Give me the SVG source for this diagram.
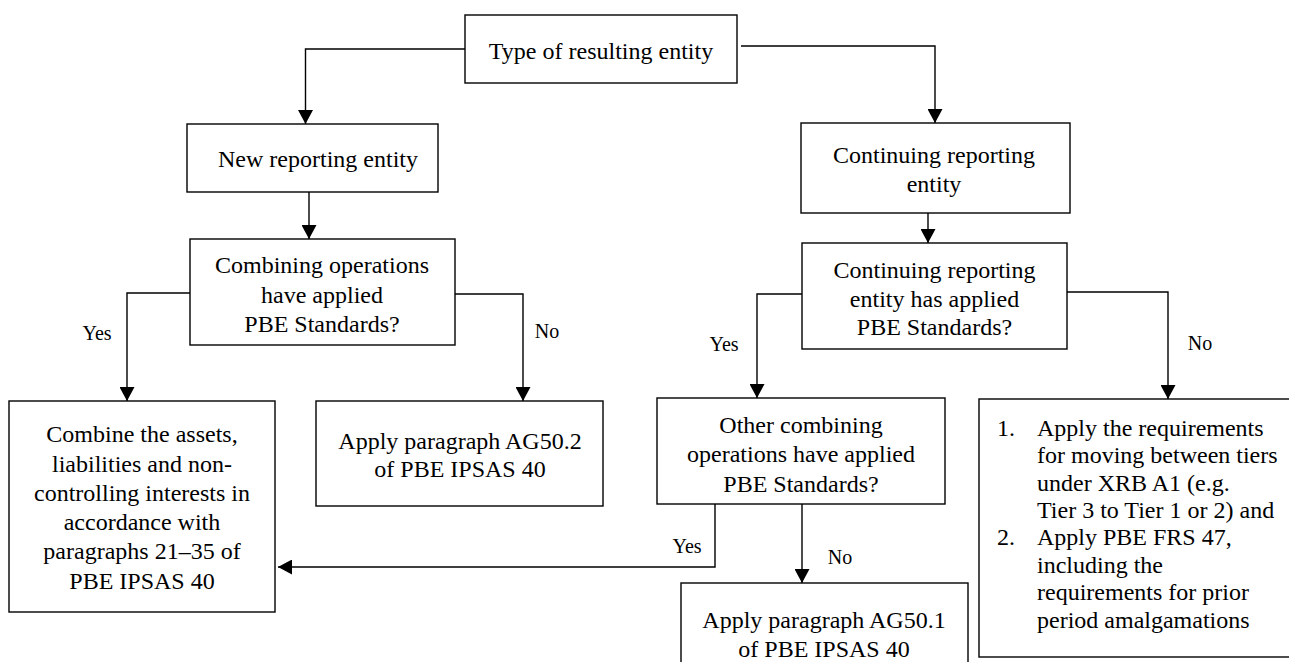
<svg xmlns="http://www.w3.org/2000/svg" width="1289" height="662" viewBox="0 0 1289 662">
<style>
.box{fill:#fff;stroke:#000;stroke-width:1.4}
.t{font-family:'Liberation Serif', 'Times New Roman', serif;font-size:24px;fill:#000;text-anchor:middle}
.tl{font-family:'Liberation Serif', 'Times New Roman', serif;font-size:24px;fill:#000}
.lbl{font-family:'Liberation Serif', 'Times New Roman', serif;font-size:20px;fill:#000;text-anchor:middle}
.c{fill:none;stroke:#000;stroke-width:1.4;marker-end:url(#ah)}
</style>
<defs>
<marker id="ah" viewBox="0 0 14 15" refX="14" refY="7.5" markerWidth="14" markerHeight="15" orient="auto" markerUnits="userSpaceOnUse">
<path d="M0,0 L14,7.5 L0,15 z" fill="#000"/>
</marker>
</defs>
<rect width="1289" height="662" fill="#fff"/>
<g id="connectors">
<path class="c" d="M465,49 H305.5 V124"/>
<path class="c" d="M741,46 H935 V123"/>
<path class="c" d="M309,192 V239"/>
<path class="c" d="M190,293 H127 V401"/>
<path class="c" d="M455,294 H523 V401"/>
<path class="c" d="M928,213 V243"/>
<path class="c" d="M802,294 H757 V398"/>
<path class="c" d="M1067,292 H1168 V399"/>
<path class="c" d="M715,504 V567 H278"/>
<path class="c" d="M802,504 V583"/>
<text class="lbl" x="97" y="340">Yes</text>
<text class="lbl" x="547" y="338">No</text>
<text class="lbl" x="724" y="351">Yes</text>
<text class="lbl" x="1200" y="350">No</text>
<text class="lbl" x="687" y="553">Yes</text>
<text class="lbl" x="840" y="564">No</text>
</g>
<g id="n-top">
<rect class="box" x="465" y="15" width="272" height="68"/>
<text class="t" x="601" y="59">Type of resulting entity</text>
</g>
<g id="n-new">
<rect class="box" x="187" y="124" width="251" height="68"/>
<text class="t" x="318" y="167">New reporting entity</text>
</g>
<g id="n-cont">
<rect class="box" x="801" y="123" width="269" height="90"/>
<text class="t" x="934" y="163">Continuing reporting</text>
<text class="t" x="934" y="192">entity</text>
</g>
<g id="n-comb-q">
<rect class="box" x="190" y="239" width="265" height="106"/>
<text class="t" x="322" y="272.5">Combining operations</text>
<text class="t" x="322" y="302.5">have applied</text>
<text class="t" x="322" y="332.3">PBE Standards?</text>
</g>
<g id="n-cont-q">
<rect class="box" x="802" y="243" width="265" height="106"/>
<text class="t" x="934.5" y="278">Continuing reporting</text>
<text class="t" x="934.5" y="306.7">entity has applied</text>
<text class="t" x="934.5" y="335">PBE Standards?</text>
</g>
<g id="n-combine">
<rect class="box" x="9" y="401" width="266" height="211"/>
<text class="t" x="142" y="442.3">Combine the assets,</text>
<text class="t" x="142" y="471.5">liabilities and non-</text>
<text class="t" x="142" y="500.7">controlling interests in</text>
<text class="t" x="142" y="530">accordance with</text>
<text class="t" x="142" y="559.3">paragraphs 21–35 of</text>
<text class="t" x="142" y="588.6">PBE IPSAS 40</text>
</g>
<g id="n-ag502">
<rect class="box" x="316" y="401" width="287" height="105"/>
<text class="t" x="460" y="449">Apply paragraph AG50.2</text>
<text class="t" x="460" y="477.3">of PBE IPSAS 40</text>
</g>
<g id="n-other-q">
<rect class="box" x="657" y="398" width="288" height="106"/>
<text class="t" x="801" y="433.3">Other combining</text>
<text class="t" x="801" y="462">operations have applied</text>
<text class="t" x="801" y="491.5">PBE Standards?</text>
</g>
<g id="n-ag501">
<rect class="box" x="681" y="583" width="287" height="100"/>
<text class="t" x="824" y="628.3">Apply paragraph AG50.1</text>
<text class="t" x="824" y="656.7">of PBE IPSAS 40</text>
</g>
<g id="n-tiers">
<rect class="box" x="979" y="399" width="330" height="258"/>
<text class="tl" x="997" y="435.7">1.</text>
<text class="tl" x="1037" y="435.7">Apply the requirements</text>
<text class="tl" x="1037" y="463.1">for moving between tiers</text>
<text class="tl" x="1037" y="490.5">under XRB A1 (e.g.</text>
<text class="tl" x="1037" y="517.9">Tier 3 to Tier 1 or 2) and</text>
<text class="tl" x="997" y="545.3">2.</text>
<text class="tl" x="1037" y="545.3">Apply PBE FRS 47,</text>
<text class="tl" x="1037" y="572.7">including the</text>
<text class="tl" x="1037" y="600.1">requirements for prior</text>
<text class="tl" x="1037" y="627.5">period amalgamations</text>
</g>
</svg>
